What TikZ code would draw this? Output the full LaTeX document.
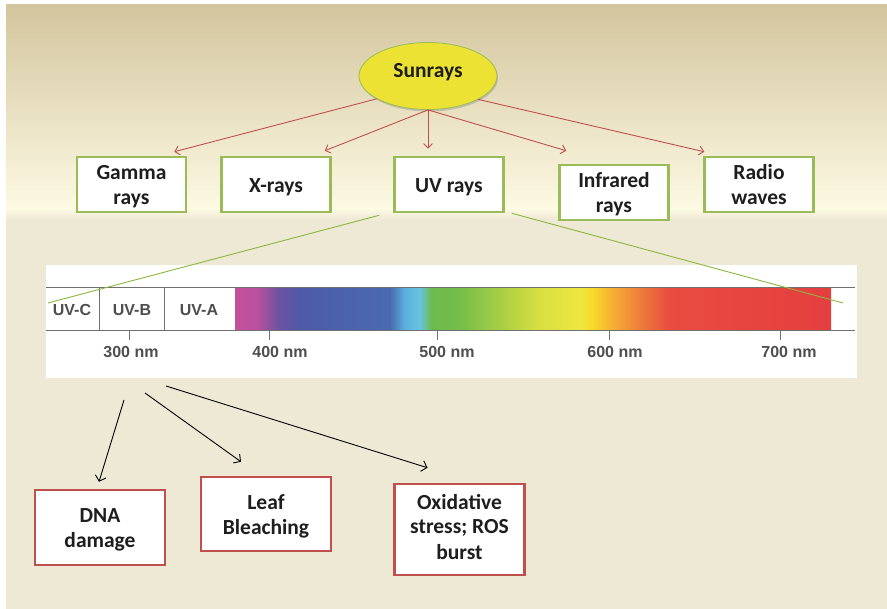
\documentclass[tikz,border=0pt]{standalone}
\usepackage{fontspec}
\setmainfont{Carlito}
\newfontfamily\specfont{Liberation Sans}
\usetikzlibrary{arrows.meta,calc,shadows,shapes.geometric}

% background
\definecolor{bgtop}{HTML}{D3C59E}
\definecolor{bgmid}{HTML}{EFE8C4}
\definecolor{bgbot}{HTML}{FDFAE4}
\definecolor{bglow}{HTML}{EEE9D5}
\definecolor{glow}{HTML}{FBF3C6}
% boxes and connectors
\definecolor{sunfill}{HTML}{EBE233}
\definecolor{boxgreen}{HTML}{9BBB59}
\definecolor{boxred}{HTML}{C0504D}
\definecolor{arrowred}{HTML}{C0504D}
\definecolor{linegreen}{HTML}{8DB640}
\definecolor{txt}{HTML}{1E1E1E}
\definecolor{spectxt}{HTML}{4E4E4E}
\definecolor{specgray}{HTML}{707070}
% visible spectrum
\definecolor{spA}{HTML}{C4509C}
\definecolor{spB}{HTML}{BA509E}
\definecolor{spC}{HTML}{6A52A2}
\definecolor{spD}{HTML}{4D5AA8}
\definecolor{spE}{HTML}{4A6AB0}
\definecolor{spF}{HTML}{5AB0DE}
\definecolor{spG}{HTML}{68C4E0}
\definecolor{spH}{HTML}{6CBB4C}
\definecolor{spI}{HTML}{74BE4A}
\definecolor{spJ}{HTML}{A8CE44}
\definecolor{spK}{HTML}{D8E040}
\definecolor{spL}{HTML}{EEE640}
\definecolor{spM}{HTML}{F6DA28}
\definecolor{spN}{HTML}{F5B433}
\definecolor{spO}{HTML}{EE7C3A}
\definecolor{spP}{HTML}{E94B40}
\definecolor{spQ}{HTML}{E43F3F}

\pgfdeclarehorizontalshading{spectrum}{100bp}{%
  color(0bp)=(spA); color(25bp)=(spA); color(26.85bp)=(spB);
  color(28.75bp)=(spC); color(30.45bp)=(spD); color(38bp)=(spE);
  color(39.25bp)=(spF); color(40.5bp)=(spG); color(41.5bp)=(spH);
  color(43.9bp)=(spI); color(47.25bp)=(spJ); color(50.6bp)=(spK);
  color(54bp)=(spL); color(55bp)=(spM); color(56.45bp)=(spN);
  color(59bp)=(spO); color(61.5bp)=(spP); color(75bp)=(spQ);
  color(100bp)=(spQ)}

\tikzset{
  boxtext/.style={font=\fontsize{21.5}{25}\selectfont\bfseries, text=txt, align=center},
  % fixed text box metrics, so every box centres its lines alike
  oneline/.style={text height=21pt, text depth=5pt},
  twolines/.style={text height=46pt, text depth=5pt},
  sunnode/.style={ellipse, draw=boxgreen, line width=0.8pt, fill=sunfill,
    minimum width=138pt, minimum height=67pt, inner sep=0pt, boxtext,
    text height=14pt, text depth=11pt,
    drop shadow={opacity=0.35, shadow xshift=1pt, shadow yshift=-2pt}},
  raybox/.style={rectangle, draw=boxgreen, line width=2.5pt, fill=white,
    minimum width=109pt, minimum height=55pt, inner sep=2pt, boxtext},
  effectbox/.style={rectangle, draw=boxred, line width=2.5pt, fill=white,
    minimum width=130pt, inner sep=2pt, boxtext},
  redarrow/.style={draw=arrowred, line width=0.9pt,
    -{Straight Barb[length=4.5pt,width=9pt]}},
  blackarrow/.style={draw=black, line width=0.9pt,
    -{Straight Barb[length=5pt,width=11pt]}},
  greenline/.style={draw=linegreen, line width=0.9pt},
  specline/.style={draw=specgray, line width=1pt},
  speclabel/.style={font=\specfont\bfseries\fontsize{16}{18}\selectfont, text=spectxt,
    inner sep=0pt}
}

\begin{document}
\begin{tikzpicture}[x=1pt, y=-1pt]
\useasboundingbox (0,0) rectangle (887,609);

% page background
\fill[white] (0,0) rectangle (887,609);
\fill[bglow] (6,5) rectangle (887,609);
\shade[top color=bgtop, middle color=bgmid, bottom color=bgbot] (6,5) rectangle (887,212);
\shade[top color=bgbot, middle color=glow, bottom color=bglow] (6,209) rectangle (887,219);

% source and kinds of radiation
\node[sunnode] (sun) at (428,76) {Sunrays};
\node[raybox, twolines] (gamma) at (131.5,184.5) {Gamma\\rays};
\node[raybox, oneline] (xray) at (276,184.5) {X-rays};
\node[raybox, oneline] (uv) at (449,184.5) {UV rays};
\node[raybox, twolines] (ir) at (614,192.5) {Infrared\\rays};
\node[raybox, twolines] (radio) at (759,184.5) {Radio\\waves};

\draw[redarrow] (sun.204.7) -- ($(gamma.north east)+(-13,-4)$);
\draw[redarrow] (sun.south) -- ($(xray.north east)+(-7,-5)$);
\draw[redarrow] (sun.south) -- ($(uv.north)+(-21,-7)$);
\draw[redarrow] (sun.south) -- ($(ir.north west)+(8,-13)$);
\draw[redarrow] (sun.335.3) -- ($(radio.north west)+(1,-4)$);

% UV and visible spectrum panel
\fill[white] (46,265) rectangle (857,378);
\shade[shading=spectrum] (235,288) rectangle (831,331);
\draw[specline] (46,288) -- (855,288);
\draw[specline] (46,331) -- (855,331);
\draw[specline] (99,288) -- (99,331);
\draw[specline] (164,288) -- (164,331);
\foreach \t in {129,269,437,609,780}
  \draw[specline] (\t,331) -- (\t,340);

\node[speclabel] (uvc) at (72,310) {UV-C};
\node[speclabel] (uvb) at (132,310) {UV-B};
\node[speclabel] (uva) at (199,310) {UV-A};
\node[speclabel] (nm300) at (131,352) {300 nm};
\node[speclabel] (nm400) at (280,352) {400 nm};
\node[speclabel] (nm500) at (447,352) {500 nm};
\node[speclabel] (nm600) at (615,352) {600 nm};
\node[speclabel] (nm700) at (789,352) {700 nm};

% zoom lines from the UV box to the spectrum
\coordinate (zoomL) at (48,303);
\coordinate (zoomR) at (843,303);
\draw[greenline] ($(uv.south west)+(-14,2)$) -- (zoomL);
\draw[greenline] ($(uv.south east)+(7,0)$) -- (zoomR);

% effects of UV-B
\node[effectbox, twolines, minimum height=75pt] (dna) at (100,527.5) {DNA\\damage};
\node[effectbox, twolines, minimum height=74pt] (leaf) at (266,514) {Leaf\\Bleaching};
\node[effectbox, minimum height=91pt, text height=64pt, text depth=5pt] (ox) at (459.5,529.5) {Oxidative\\stress; ROS\\burst};

\coordinate (fromB1) at (124,400);
\coordinate (fromB2) at (145,393);
\coordinate (fromB3) at (166,386);
\draw[blackarrow] (fromB1) -- ($(dna.north)+(-1,-7)$);
\draw[blackarrow] (fromB2) -- ($(leaf.north)+(-25,-14)$);
\draw[blackarrow] (fromB3) -- ($(ox.north)+(-32,-15)$);
\end{tikzpicture}
\end{document}
